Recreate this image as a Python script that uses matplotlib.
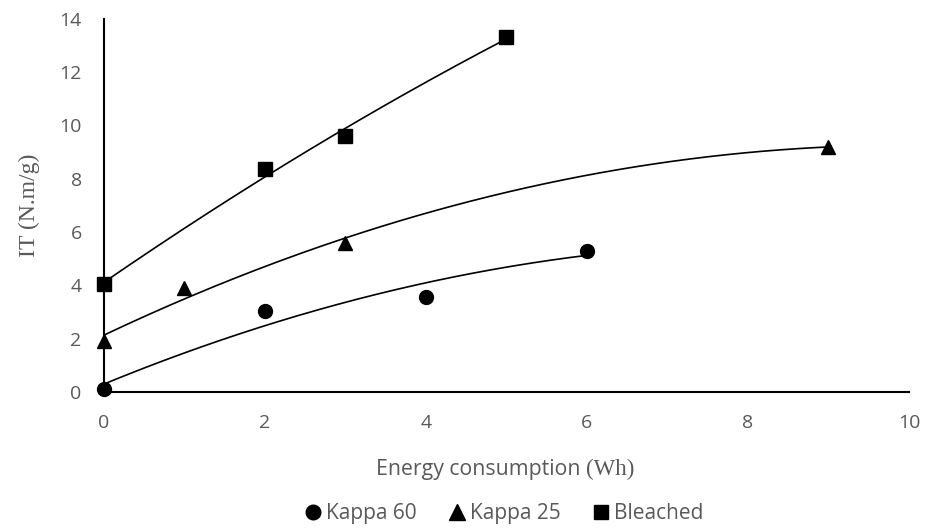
import numpy as np
import matplotlib.pyplot as plt
from matplotlib.offsetbox import TextArea, HPacker, AnchoredOffsetbox

# energy input (Wh) and IT (N.m/g) for each pulp
kappa60_x = [0, 2, 4, 6]
kappa60_y = [0.12, 3.02, 3.56, 5.3]
kappa25_x = [0, 1, 3, 9]
kappa25_y = [1.9, 3.88, 5.6, 9.2]
bleached_x = [0, 2, 3, 5]
bleached_y = [4.05, 8.37, 9.58, 13.3]

series = [
    ("Kappa 60", kappa60_x, kappa60_y, "o", 10),
    ("Kappa 25", kappa25_x, kappa25_y, "^", 10.5),
    ("Bleached", bleached_x, bleached_y, "s", 10),
]

grey = "#595959"
sans = "Open Sans"
serif = "Liberation Serif"

fig = plt.figure(figsize=(9.25, 5.29), dpi=100)
ax = fig.add_axes([0.1124, 0.259, 0.8703, 0.706])

handles = []
for name, x, y, mk, ms in series:
    # 2nd order polynomial trendline
    c = np.polyfit(x, y, 2)
    xx = np.linspace(min(x), max(x), 200)
    ax.plot(xx, np.polyval(c, xx), color="black", lw=1.2, zorder=2)
    h, = ax.plot(x, y, ls="none", marker=mk, ms=ms, color="black",
                 clip_on=False, zorder=3, label=name)
    handles.append(h)

ax.set_xlim(0, 10)
ax.set_ylim(0, 14)
ax.set_xticks(range(0, 11, 2))
ax.set_yticks(range(0, 15, 2))
for s in ["top", "right"]:
    ax.spines[s].set_visible(False)
for s in ["left", "bottom"]:
    ax.spines[s].set_linewidth(1.5)
    ax.spines[s].set_color("black")
ax.tick_params(length=0, labelsize=14, labelcolor=grey)
ax.tick_params(axis="x", pad=16)
ax.tick_params(axis="y", pad=16)
for lb in ax.get_xticklabels() + ax.get_yticklabels():
    lb.set_fontfamily(sans)

ax.set_ylabel("IT (N.m/g)", fontsize=17, color=grey, family=serif, labelpad=14)

# x label mixes a sans part and a serif unit
xl = HPacker(children=[
    TextArea("Energy consumption ", textprops=dict(fontsize=15.3, color=grey, family=sans)),
    TextArea("(Wh)", textprops=dict(fontsize=16.5, color=grey, family=serif)),
], align="baseline", pad=0, sep=0)
box = AnchoredOffsetbox(loc="center", child=xl, frameon=False, pad=0,
                        bbox_to_anchor=(0.546, 0.112), bbox_transform=fig.transFigure)
fig.add_artist(box)

leg = fig.legend(handles=handles, loc="center", bbox_to_anchor=(0.546, 0.029),
                 ncol=3, frameon=False, fontsize=15, handlelength=0.6,
                 handletextpad=0.35, columnspacing=1.6, markerscale=1.05)
for t in leg.get_texts():
    t.set_color(grey)
    t.set_fontfamily(sans)

fig.savefig("out.png", dpi=100)
